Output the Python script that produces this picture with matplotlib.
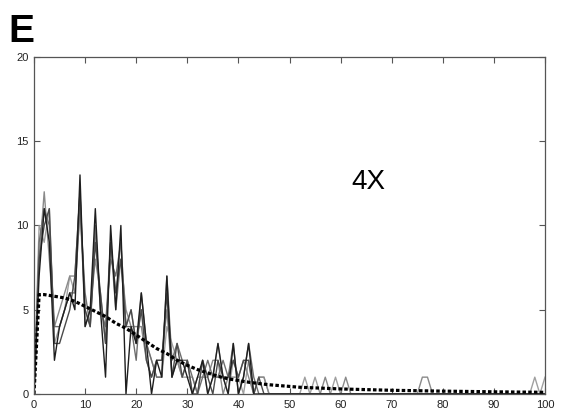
import matplotlib
matplotlib.use("Agg")
import matplotlib.pyplot as plt
import numpy as np

plt.rcParams['font.family'] = ['Liberation Sans', 'DejaVu Sans']

# bin positions (0..100) and counts per run
x = np.arange(0, 101)

def pad(vals):
    # runs only list the nonzero head; the rest of the bins are empty
    out = np.zeros(101)
    out[:len(vals)] = vals
    return out

run_a = pad([0, 7, 11, 9, 2, 4, 5, 6, 5, 13, 4, 5, 11, 5, 1, 10, 5, 10, 0, 4,
             3, 6, 3, 0, 2, 1, 7, 1, 2, 2, 1, 0, 1, 2, 0, 1, 3, 1, 0, 3,
             0, 1, 3, 0, 0, 0])
run_b = pad([0, 8, 10, 11, 3, 3, 4, 5, 7, 12, 5, 4, 9, 6, 3, 9, 6, 8, 4, 5,
             3, 5, 2, 1, 2, 2, 6, 1, 3, 1, 2, 0, 0, 2, 1, 0, 2, 1, 1, 2,
             1, 2, 2, 0, 1, 0])
run_c = pad([0, 9, 11, 10, 4, 4, 5, 6, 6, 11, 6, 4, 10, 5, 4, 8, 7, 9, 4, 4,
             2, 6, 3, 2, 1, 1, 7, 2, 3, 2, 2, 1, 0, 1, 2, 1, 1, 2, 1, 3,
             0, 1, 3, 1, 0, 0])
run_d = pad([0, 8, 12, 8, 4, 5, 6, 7, 7, 12, 4, 5, 8, 6, 3, 9, 5, 8, 5, 4,
             4, 4, 2, 1, 2, 2, 5, 1, 2, 1, 2, 0, 1, 1, 1, 2, 2, 0, 1, 1,
             1, 2, 1, 0, 1, 1, 0, 0, 0, 0, 0, 0, 0, 0, 0, 0, 0, 1, 0, 0,
             0, 1, 0, 0, 0, 0, 0, 0, 0, 0, 0, 0, 0, 0, 0, 0, 1, 1, 0])
run_e = pad([0, 10, 9, 11, 3, 4, 5, 7, 6, 11, 5, 4, 10, 5, 4, 9, 6, 9, 4, 5,
             3, 5, 3, 2, 1, 1, 4, 3, 2, 1, 1, 1, 0, 2, 0, 1, 3, 1, 0, 2,
             1, 0, 2, 0, 1, 1, 0, 0, 0, 0, 0, 0, 0, 1, 0, 1, 0, 0, 0, 1,
             0, 0, 0, 0, 0, 0, 0, 0, 0, 0, 0, 0, 0, 0, 0, 0, 0, 0, 0, 0,
             0, 0, 0, 0, 0, 0, 0, 0, 0, 0, 0, 0, 0, 0, 0, 0, 0, 0, 1, 0, 1])

runs = [run_e, run_d, run_c, run_b, run_a]
run_colors = ['#a0a0a0', '#8a8a8a', '#6e6e6e', '#4a4a4a', '#1e1e1e']

# expected distribution (dotted)
fit_x = [0, 1, 2, 4, 6, 8, 10, 12, 14, 16, 18, 20, 22, 24, 26, 28, 30, 32,
         34, 36, 38, 40, 42, 44, 46, 48, 50, 52, 56, 60, 70, 80, 90, 100]
fit_y = [0, 5.9, 5.9, 5.8, 5.7, 5.5, 5.2, 4.9, 4.6, 4.2, 3.9, 3.5, 3.1, 2.7,
         2.4, 2.0, 1.7, 1.45, 1.25, 1.05, 0.9, 0.8, 0.7, 0.62, 0.55, 0.5,
         0.45, 0.4, 0.35, 0.3, 0.22, 0.17, 0.13, 0.1]

fig = plt.figure(figsize=(5.61, 4.13), dpi=100)
ax = fig.add_axes([0.0606, 0.046, 0.9109, 0.816])

for r, c in zip(runs, run_colors):
    ax.plot(x, r, color=c, lw=1.0)
ax.plot(fit_x, fit_y, color='black', lw=2.3, linestyle=(0, (1.1, 0.7)))

ax.set_xlim(0, 100)
ax.set_ylim(0, 20)
ax.set_xticks(range(0, 101, 10))
ax.set_yticks(range(0, 21, 5))
ax.tick_params(direction='in', length=4, width=0.8, color='#555555',
               top=True, right=True, labelsize=8, labelcolor='#222222', pad=4)
for s in ax.spines.values():
    s.set_color('#555555')
    s.set_linewidth(0.9)

ax.text(65.5, 12.6, '4X', fontsize=20, ha='center', va='center')
fig.text(8 / 561, 1 - 42 / 413, 'E', fontsize=28, fontweight='bold',
         ha='left', va='baseline')

fig.savefig('out.png', dpi=100)
